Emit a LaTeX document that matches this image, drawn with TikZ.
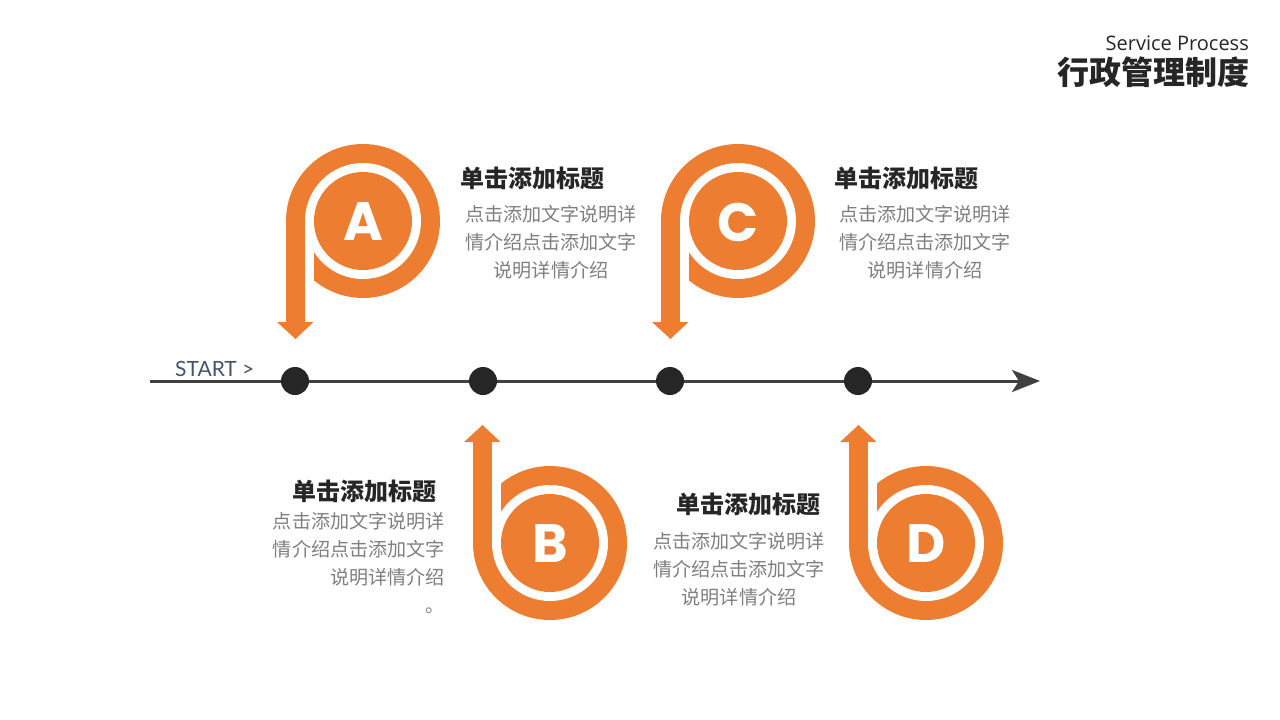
\documentclass[tikz,border=0pt]{standalone}
\usepackage{fontspec}
\usetikzlibrary{arrows.meta}
\newfontfamily\cjk{Noto Sans CJK SC}
\newfontfamily\letterfont{Poppins}
\newfontfamily\latofont{Lato}
\newfontfamily\opensans{Open Sans}
\definecolor{orng}{HTML}{ED7D31}
\definecolor{dotc}{HTML}{262626}
\definecolor{linec}{HTML}{404040}
\definecolor{titlec}{HTML}{262626}
\definecolor{bodyc}{HTML}{7F7F7F}
\definecolor{startc}{HTML}{44546A}
\tikzset{
  dotnode/.style={circle,fill=dotc,minimum size=28pt,inner sep=0pt},
  lettertext/.style={text=white,font=\letterfont\bfseries\fontsize{54}{58}\selectfont,inner sep=0pt},
  titletext/.style={text=titlec,font=\cjk\bfseries\fontsize{24}{28}\selectfont,inner sep=0pt},
  bodytext/.style={text=bodyc,font=\cjk\fontsize{19.1}{28}\selectfont,inner sep=0pt},
}
\newcommand\spiralshape[5]{%
  \begin{scope}[shift={(#1,#2)},yscale=#3]
    \fill[orng] (0,0) circle[radius=77];
    \fill[white] (0,0) circle[radius=58];
    \fill[orng] (0,0) circle[radius=49];
    \fill[white] (-58,0) rectangle (-49,80);
    \fill[orng] (-77,0) rectangle (-58,102);
    \fill[orng] (-86,101) -- (-49.5,101) -- (-67.5,118) -- cycle;
  \end{scope}
  \node[lettertext] (#4) at (#1,#2+1) {#5};
}
\begin{document}
\begin{tikzpicture}[x=1pt,y=-1pt]
\useasboundingbox (0,0) rectangle (1280,720);
\fill[white] (0,0) rectangle (1280,720);

% header
\node[anchor=east,inner sep=0pt,text=dotc,font=\opensans\fontsize{20}{22}\selectfont] (hdr1) at (1249,43) {Service Process};
\node[anchor=east,inner sep=0pt,text=dotc,font=\cjk\bfseries\fontsize{32}{36}\selectfont] (hdr2) at (1250,72) {行政管理制度};

% timeline
\coordinate (tlstart) at (150,381);
\coordinate (tlend) at (1040,381);
\draw[linec,line width=3pt,-{Stealth[length=28pt,width=22pt,inset=7pt]}] (tlstart) -- (tlend);
\node[anchor=south west,inner sep=0pt,text=startc,font=\latofont\fontsize{21}{24}\selectfont] (start) at (175,377) {START >};

\node[dotnode] (d1) at (295,381) {};
\node[dotnode] (d2) at (483,381) {};
\node[dotnode] (d3) at (670,381) {};
\node[dotnode] (d4) at (858,381) {};

% spiral shapes
\spiralshape{363}{221}{1}{la}{A}
\spiralshape{550}{543}{-1}{lb}{B}
\spiralshape{738}{221}{1}{lc}{C}
\spiralshape{926}{543}{-1}{ld}{D}

% texts
\node[titletext] (ta) at (532,178) {单击添加标题};
\node[bodytext,align=center] (ba) at (551,242) {点击添加文字说明详\\情介绍点击添加文字\\说明详情介绍};

\node[titletext] (tc) at (906,178) {单击添加标题};
\node[bodytext,align=center] (bc) at (925,242) {点击添加文字说明详\\情介绍点击添加文字\\说明详情介绍};

\node[titletext,anchor=east] (tb) at (437,491) {单击添加标题};
\node[bodytext,align=right,anchor=east] (bb) at (445,563) {点击添加文字说明详\\情介绍点击添加文字\\说明详情介绍\\。};

\node[titletext] (td) at (748,504) {单击添加标题};
\node[bodytext,align=center] (bd) at (739,569) {点击添加文字说明详\\情介绍点击添加文字\\说明详情介绍};
\end{tikzpicture}
\end{document}
